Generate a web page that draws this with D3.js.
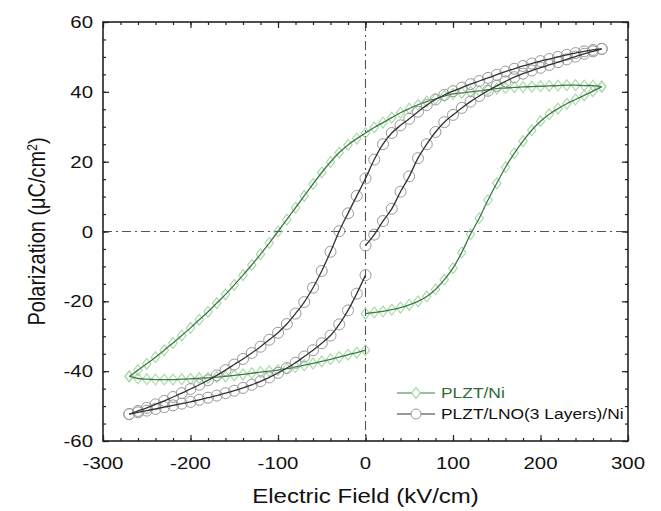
<!DOCTYPE html>
<meta charset="utf-8">
<script src="https://d3js.org/d3.v7.min.js"></script>
<style>
  body { margin: 0px; background: #fff; }
  text { font-family: "Liberation Sans", Arial, sans-serif; fill: #111; }
  .tick-label { font-size: 17px; }
  .axis-label { font-size: 20px; }
  .legend-text { font-size: 14.5px; }
</style>
<div id="my_dataviz"></div>
<script>

// electric field steps (kV/cm) and polarization (uC/cm2)
// PLZT/Ni loop
const niUpE  = [0,10,20,30,40,50,60,70,80,90,100,110,120,130,140,150,160,170,180,190,200,210,220,230,240,250,260,270];
const niUpP  = [-23.5,-23.2,-22.9,-22.4,-21.8,-21.0,-20.0,-18.6,-16.6,-13.8,-10.5,-6.0,-0.8,3.8,9.0,13.8,18.4,22.4,25.9,29.0,31.6,33.6,35.2,36.6,37.8,39.0,40.2,41.5];

const niTopE = [270,260,250,240,230,220,210,200,190,180,170,160,150,140,130,120,110,100,90,80,70,60,50,40,30,20,10,0,
                -10,-20,-30,-40,-50,-60,-70,-80,-90,-100,-110,-120,-130,-140,-150,-160,-170,-180,-190,-200,-210,-220,-230,-240,-250,-260,-270];
const niTopP = [41.5,41.8,41.8,41.9,41.9,41.8,41.7,41.6,41.5,41.4,41.3,41.1,40.9,40.6,40.3,40.0,39.7,39.4,38.8,38.0,37.2,36.3,35.2,34.0,32.6,31.2,29.8,28.2,
                26.6,24.8,22.6,19.9,16.9,13.6,10.2,6.8,3.4,0,-3.3,-6.5,-9.6,-12.5,-15.3,-18.0,-20.5,-23.0,-25.3,-27.6,-29.8,-31.9,-34.0,-36.0,-37.9,-39.7,-41.5];

const niBotE = [-270,-260,-250,-240,-230,-220,-210,-200,-190,-180,-170,-160,-150,-140,-130,-120,-110,-100,-90,-80,-70,-60,-50,-40,-30,-20,-10,0];
const niBotP = [-41.5,-42.1,-42.3,-42.4,-42.4,-42.4,-42.3,-42.2,-42.0,-41.9,-41.7,-41.5,-41.2,-40.9,-40.6,-40.3,-40.0,-39.7,-39.3,-38.8,-38.3,-37.8,-37.2,-36.6,-36.0,-35.3,-34.7,-34.0];

// PLZT/LNO(3 Layers)/Ni loop
const lnoUpE  = [0,10,20,30,40,50,60,70,80,90,100,110,120,130,140,150,160,170,180,190,200,210,220,230,240,250,260,270];
const lnoUpP  = [-4.0,-0.9,3.0,6.5,11.4,15.8,21.0,25.0,28.5,31.3,33.4,35.4,37.2,38.8,40.3,41.7,43.0,44.2,45.2,46.1,46.9,47.7,48.5,49.3,50.1,50.9,51.6,52.3];

const lnoTopE = [270,260,250,240,230,220,210,200,190,180,170,160,150,140,130,120,110,100,90,80,70,60,50,40,30,20,10,0,
                 -10,-20,-30,-40,-50,-60,-70,-80,-90,-100,-110,-120,-130,-140,-150,-160,-170,-180,-190,-200,-210,-220,-230,-240,-250,-260,-270];
const lnoTopP = [52.3,52.0,51.6,51.1,50.6,50.0,49.4,48.8,48.1,47.4,46.6,45.8,44.9,44.0,43.1,42.2,41.2,40.2,39.1,37.8,36.2,34.3,32.3,30.4,28.2,25.0,20.6,15.2,
                 10.2,5.2,0.1,-5.8,-11.3,-16.1,-20.2,-23.5,-26.5,-29.0,-31.0,-33.0,-34.8,-36.5,-38.1,-39.7,-41.2,-42.6,-43.9,-45.1,-46.3,-47.4,-48.5,-49.5,-50.5,-51.4,-52.3];

const lnoBotE = [-270,-260,-250,-240,-230,-220,-210,-200,-190,-180,-170,-160,-150,-140,-130,-120,-110,-100,-90,-80,-70,-60,-50,-40,-30,-20,-10,0];
const lnoBotP = [-52.3,-51.8,-51.3,-50.8,-50.3,-49.8,-49.3,-48.8,-48.2,-47.6,-47.0,-46.3,-45.6,-44.8,-43.9,-42.9,-41.8,-40.5,-39.1,-37.6,-35.8,-34.0,-32.0,-29.8,-26.6,-22.6,-17.8,-12.5];

const xTicks = [-300,-200,-100,0,100,200,300];
const yTicks = [-60,-40,-20,0,20,40,60];
const legendNames = ["PLZT/Ni", "PLZT/LNO(3 Layers)/Ni"];

// build the branches
const zip = (es, ps) => es.map((e, i) => ({ e: e, p: ps[i] }));
const niBranches  = [zip(niUpE, niUpP), zip(niTopE, niTopP), zip(niBotE, niBotP)];
const lnoBranches = [zip(lnoUpE, lnoUpP), zip(lnoTopE, lnoTopP), zip(lnoBotE, lnoBotP)];

var margin = {top: 22, right: 33, bottom: 70, left: 103},
    width = 661 - margin.left - margin.right,
    height = 511 - margin.top - margin.bottom;

// the picture text is a bit wide, so stretch horizontally
var stretch = 1.2;

var svg = d3.select("#my_dataviz")
  .append("svg")
    .attr("width", 661)
    .attr("height", 511)
  .append("g")
    .attr("transform", "translate(" + margin.left + "," + margin.top + ")");

var x = d3.scaleLinear().domain([-300, 300]).range([0, width]);
var y = d3.scaleLinear().domain([-60, 60]).range([height, 0]);

// zero lines, dash-dot
svg.append("line")
  .attr("x1", x(0)).attr("x2", x(0)).attr("y1", 0).attr("y2", height)
  .style("stroke", "#555").style("stroke-width", 1.1).style("stroke-dasharray", "9,4,2,4");
svg.append("line")
  .attr("x1", 0).attr("x2", width).attr("y1", y(0)).attr("y2", y(0))
  .style("stroke", "#555").style("stroke-width", 1.1).style("stroke-dasharray", "9,4,2,4");

// axes with inward ticks on all four sides
var minorX = d3.range(-300, 301, 20), minorY = d3.range(-60, 61, 5);
function tickAxis(axisFn, scale, major, minor, transform) {
  var gMin = svg.append("g").attr("transform", transform)
    .call(axisFn(scale).tickValues(minor).tickSize(-3).tickFormat(""));
  var gMaj = svg.append("g").attr("transform", transform)
    .call(axisFn(scale).tickValues(major).tickSize(-6).tickFormat(""));
  [gMin, gMaj].forEach(g => {
    g.select(".domain").remove();
    g.selectAll("line").style("stroke", "#222").style("stroke-width", 1.2);
  });
}
tickAxis(d3.axisBottom, x, xTicks, minorX, "translate(0," + height + ")");
tickAxis(d3.axisTop, x, xTicks, minorX, "translate(0,0)");
tickAxis(d3.axisLeft, y, yTicks, minorY, "translate(0,0)");
tickAxis(d3.axisRight, y, yTicks, minorY, "translate(" + width + ",0)");

svg.append("rect")
  .attr("width", width).attr("height", height)
  .style("fill", "none").style("stroke", "#222").style("stroke-width", 1.6);

// tick labels
svg.selectAll(".xlab").data(xTicks).enter().append("text")
  .attr("class", "tick-label")
  .attr("transform", d => "translate(" + x(d) + "," + (height + 28) + ") scale(" + stretch + ",1)")
  .style("text-anchor", "middle")
  .text(d => d);
svg.selectAll(".ylab").data(yTicks).enter().append("text")
  .attr("class", "tick-label")
  .attr("transform", d => "translate(-10," + (y(d) + 6) + ") scale(" + stretch + ",1)")
  .style("text-anchor", "end")
  .text(d => d);

// axis titles
svg.append("text")
  .attr("class", "axis-label")
  .attr("transform", "translate(" + (width / 2) + "," + (height + 62) + ") scale(" + stretch + ",1)")
  .style("text-anchor", "middle")
  .text("Electric Field (kV/cm)");
var yl = svg.append("text")
  .attr("class", "axis-label")
  .attr("transform", "translate(-58," + (height / 2) + ") scale(" + stretch + ",1) rotate(-90)")
  .style("text-anchor", "middle");
yl.append("tspan").text("Polarization (\u03bcC/cm");
yl.append("tspan").attr("dy", -7).style("font-size", "12px").text("2");
yl.append("tspan").attr("dy", 7).text(")");

var line = d3.line()
  .x(d => x(d.e)).y(d => y(d.p))
  .curve(d3.curveCatmullRom);

var diamond = d3.symbol().type(d3.symbolDiamond).size(34);

// PLZT/Ni
niBranches.forEach(b => {
  svg.append("g").selectAll("path").data(b).enter().append("path")
    .attr("d", diamond)
    .attr("transform", d => "translate(" + x(d.e) + "," + y(d.p) + ") scale(1.35,1)")
    .style("fill", "none").style("stroke", "#a6d8a6").style("stroke-width", 0.9);
});
niBranches.forEach(b => {
  svg.append("path").datum(b).attr("d", line)
    .style("fill", "none").style("stroke", "#3d7a45").style("stroke-width", 1.3);
});

// PLZT/LNO(3 Layers)/Ni
lnoBranches.forEach(b => {
  svg.append("g").selectAll("circle").data(b).enter().append("circle")
    .attr("cx", d => x(d.e)).attr("cy", d => y(d.p)).attr("r", 5.5)
    .style("fill", "none").style("stroke", "#999").style("stroke-width", 1);
});
lnoBranches.forEach(b => {
  svg.append("path").datum(b).attr("d", line)
    .style("fill", "none").style("stroke", "#333").style("stroke-width", 1.3);
});

// legend
var legendY = [371, 392];
var lg = svg.append("g").attr("transform", "translate(" + (397 - margin.left) + ",0)");
lg.append("line").attr("x1", 0).attr("x2", 38).attr("y1", legendY[0]).attr("y2", legendY[0])
  .style("stroke", "#3d7a45").style("stroke-width", 1.1);
lg.append("path").attr("d", diamond)
  .attr("transform", "translate(19," + legendY[0] + ") scale(1.35,1)")
  .style("fill", "#fff").style("stroke", "#a6d8a6");
lg.append("line").attr("x1", 0).attr("x2", 38).attr("y1", legendY[1]).attr("y2", legendY[1])
  .style("stroke", "#333").style("stroke-width", 1.1);
lg.append("circle").attr("cx", 19).attr("cy", legendY[1]).attr("r", 5)
  .style("fill", "#fff").style("stroke", "#999");
lg.append("text").attr("class", "legend-text")
  .attr("transform", "translate(44," + (legendY[0] + 5) + ") scale(" + stretch + ",1)")
  .style("fill", "#2e6b30").text(legendNames[0]);
lg.append("text").attr("class", "legend-text")
  .attr("transform", "translate(44," + (legendY[1] + 5) + ") scale(" + stretch + ",1)")
  .text(legendNames[1]);

</script>
